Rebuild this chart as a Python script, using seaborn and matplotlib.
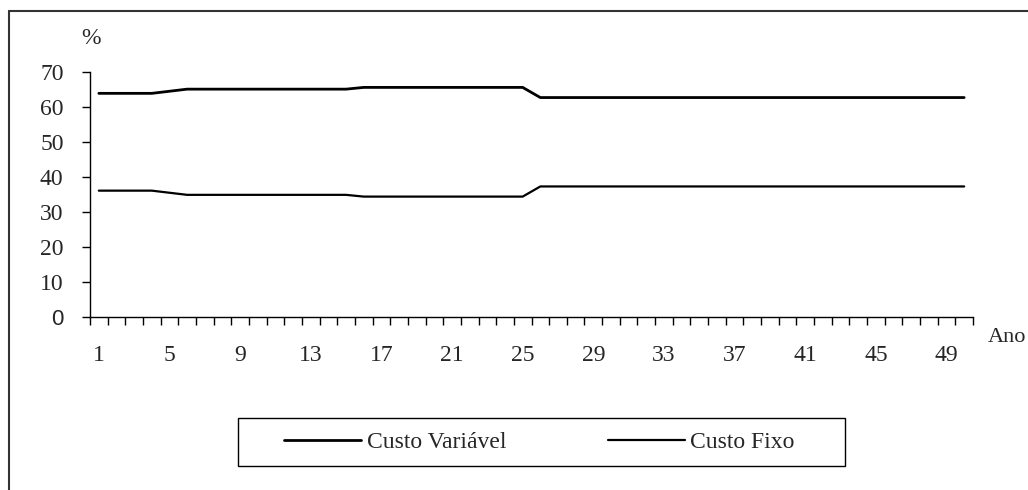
import numpy as np
import pandas as pd
import matplotlib
matplotlib.use("Agg")
import matplotlib.pyplot as plt
from matplotlib.lines import Line2D
from matplotlib.patches import Rectangle
from matplotlib.ticker import FixedLocator
import seaborn as sns

# Share of total cost (%) per year of the project horizon
anos = list(range(1, 51))
custo_variavel = [
    63.9, 63.9, 63.9, 63.9, 64.5, 65.1, 65.1, 65.1, 65.1, 65.1,
    65.1, 65.1, 65.1, 65.1, 65.1, 65.6, 65.6, 65.6, 65.6, 65.6,
    65.6, 65.6, 65.6, 65.6, 65.6, 62.7, 62.7, 62.7, 62.7, 62.7,
    62.7, 62.7, 62.7, 62.7, 62.7, 62.7, 62.7, 62.7, 62.7, 62.7,
    62.7, 62.7, 62.7, 62.7, 62.7, 62.7, 62.7, 62.7, 62.7, 62.7,
]
custo_fixo = [
    36.1, 36.1, 36.1, 36.1, 35.5, 34.9, 34.9, 34.9, 34.9, 34.9,
    34.9, 34.9, 34.9, 34.9, 34.9, 34.4, 34.4, 34.4, 34.4, 34.4,
    34.4, 34.4, 34.4, 34.4, 34.4, 37.3, 37.3, 37.3, 37.3, 37.3,
    37.3, 37.3, 37.3, 37.3, 37.3, 37.3, 37.3, 37.3, 37.3, 37.3,
    37.3, 37.3, 37.3, 37.3, 37.3, 37.3, 37.3, 37.3, 37.3, 37.3,
]
series = ["Custo Variável", "Custo Fixo"]
yticks = [0, 10, 20, 30, 40, 50, 60, 70]
xtick_labels = list(range(1, 51, 4))

df = pd.DataFrame({
    "Ano": anos * 2,
    "pct": custo_variavel + custo_fixo,
    "serie": [series[0]] * len(anos) + [series[1]] * len(anos),
})

sns.set_theme(style="white")
plt.rcParams["font.family"] = ["Liberation Serif", "DejaVu Serif"]

W, H = 1028, 490
fig = plt.figure(figsize=(W / 100, H / 100), dpi=100)
ax = fig.add_axes([90 / W, 1 - 317 / H, (973 - 90) / W, (317 - 72) / H])

sns.lineplot(data=df, x="Ano", y="pct", hue="serie", hue_order=series,
             palette=["black", "black"], ax=ax, legend=False)
widths = [2.0, 1.6]
for line, lw in zip(ax.lines, widths):
    line.set_linewidth(lw)

ax.set_xlim(0.5, 50.5)
ax.set_ylim(0, 70)
for side in ["top", "right"]:
    ax.spines[side].set_visible(False)
for side in ["left", "bottom"]:
    ax.spines[side].set_color("black")
    ax.spines[side].set_linewidth(1.0)

tick_fs = 17
ax.set_yticks(yticks)
ax.set_yticklabels([str(v) for v in yticks])
ax.tick_params(axis="y", direction="out", length=6, width=1, color="black",
               pad=13, labelsize=tick_fs, left=True)
for lab in ax.get_yticklabels():
    if lab.get_text() == "0":
        lab.set_fontfamily("Liberation Sans")
        lab.set_fontsize(16)

ax.set_xticks(xtick_labels)
ax.set_xticklabels([str(v) for v in xtick_labels])
ax.xaxis.set_minor_locator(FixedLocator(np.arange(0.5, 51, 1.0)))
ax.tick_params(axis="x", which="major", length=0, pad=20, labelsize=tick_fs)
ax.tick_params(axis="x", which="minor", direction="out", length=6, width=1,
               color="black", bottom=True)
ax.set_xlabel("")
ax.set_ylabel("")

fig.text(91 / W, 1 - 38 / H, "%", fontsize=tick_fs, ha="center", va="center")
fig.text(1026 / W, 1 - 337 / H, "Ano", fontsize=16, ha="right", va="center")

# Legend below the plot, with its own rectangular frame
handles = [Line2D([], [], color="black", lw=widths[0]),
           Line2D([], [], color="black", lw=widths[1])]
fig.legend(handles, series, loc="center",
           bbox_to_anchor=(539.5 / W, 1 - 442 / H), ncol=2,
           fontsize=17, frameon=False,
           handlelength=3.25, handletextpad=0.25, columnspacing=4.3,
           borderpad=0.0, borderaxespad=0)
fig.add_artist(Rectangle((238 / W, 1 - 466 / H), (845 - 238) / W, 48 / H,
                         transform=fig.transFigure, fill=False,
                         edgecolor="black", lw=1.0))

# Outer frame around the chart area
fig.add_artist(Line2D([9 / W, 1.0], [1 - 11 / H, 1 - 11 / H],
                      transform=fig.transFigure, color="#333333", lw=1.5))
fig.add_artist(Line2D([9 / W, 9 / W], [0.0, 1 - 11 / H],
                      transform=fig.transFigure, color="#333333", lw=1.5))

fig.savefig("out.png", dpi=100)
